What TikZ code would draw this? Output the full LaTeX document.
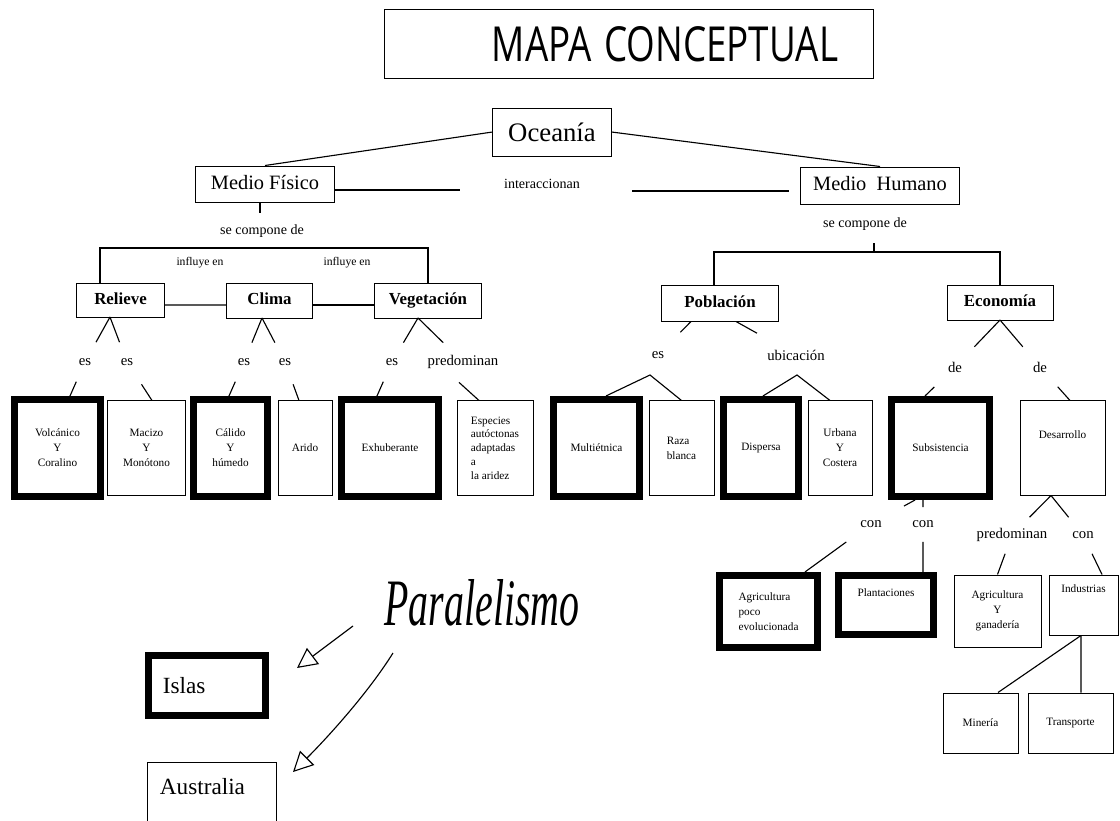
\documentclass[tikz,border=0pt]{standalone}
\usepackage{fontspec}
\usepackage{graphicx}
\setmainfont{Liberation Serif}
\newfontfamily\titlefont{Open Sans}
\usetikzlibrary{calc,arrows.meta}

\tikzset{
  box/.style={draw, line width=0.7pt, inner sep=0pt, align=center},
  heavybox/.style={draw, line width=5pt, inner sep=0pt, align=center},
  head/.style={box, text height=8.4pt, text depth=2.6pt, font=\fontsize{12}{14}\bfseries\selectfont},
  small/.style={font=\fontsize{8}{10.6}\selectfont},
  lowbox/.style={box, small, minimum height=2.35cm},
  lowheavy/.style={heavybox, small, minimum height=2.425cm},
  lbl/.style={inner sep=1pt, font=\fontsize{10.5}{12}\selectfont},
  note/.style={inner sep=1pt, font=\fontsize{10}{12}\selectfont},
  link/.style={line width=0.8pt},
  hand/.style={-{Triangle[open,length=0.5cm,width=0.5cm]}, line width=0.8pt}
}

\begin{document}
\begin{tikzpicture}[x=0.025cm, y=-0.025cm]
\useasboundingbox (0,0) rectangle (1120,821);
\clip (0,0) rectangle (1120,821);

% title
\node[box, minimum width=12.2cm, minimum height=1.7cm, text width=10.45cm, align=right] (title) at (629,44)
  {\titlefont\resizebox{8.65cm}{0.875cm}{MAPA CONCEPTUAL}};

% first level
\node[box, minimum width=2.95cm, minimum height=1.2cm, font=\fontsize{19}{22}\selectfont] (oce) at (552,132) {Oceanía};
\node[box, minimum width=3.45cm, minimum height=0.9cm, text height=10.5pt, text depth=3pt, font=\fontsize{14.5}{17}\selectfont] (mf) at (265,184) {Medio Físico};
\node[box, minimum width=3.95cm, minimum height=0.925cm, text height=10.5pt, text depth=3pt, font=\fontsize{14.5}{17}\selectfont] (mh) at (880,185.5) {Medio\ \ Humano};
\draw[link] (oce.west) -- (mf.north);
\draw[link] (oce.east) -- (mh.north);

\node[note] (inter) at (542,184) {interaccionan};
\coordinate (ia) at (460,190);
\coordinate (ib) at (632,191);
\draw[link] (mf.east |- ia) -- (ia);
\draw[link, shorten >=0.275cm] (ib) -- (mh.west |- ib);

% medio fisico
\node[note] (mfcomp) at (262,231) {se compone de};
\draw[link] ($(mf.south)+(-5,0)$) -- ++(0,11);
\coordinate (mfbr) at (260,248);

\node[head, minimum width=2.175cm, minimum height=0.85cm] (rel) at (120.5,300) {Relieve};
\node[head, minimum width=2.125cm, minimum height=0.875cm] (cli) at (269.5,300.5) {Clima};
\node[head, minimum width=2.65cm, minimum height=0.875cm] (veg) at (428,300.5) {Vegetación};
\draw[link] ($(rel.north)+(-20.5,0)$) |- (mfbr) -| (veg.north);
\draw[link] ($(rel.east)+(0,5)$) -- ($(cli.west)+(0,4.5)$);
\draw[link] ($(cli.east)+(0,4.5)$) -- ($(veg.west)+(0,4.5)$);

\node[inner sep=1pt, font=\fontsize{8.3}{10}\selectfont] (infl1) at (200,263) {influye en};
\node[inner sep=1pt, font=\fontsize{8.3}{10}\selectfont] (infl2) at (347,263) {influye en};

\coordinate (relpk) at (110,317);
\coordinate (clipk) at (262,318);
\coordinate (vegpk) at (418,318);
\node[lbl] (es1) at (85,362) {es};
\node[lbl] (es2) at (127,362) {es};
\node[lbl] (es3) at (244,362) {es};
\node[lbl] (es4) at (285,362) {es};
\node[lbl] (es5) at (392,362) {es};
\node[lbl] (pred1) at (463,362) {predominan};
\foreach \pk/\lb in {relpk/es1, relpk/es2, clipk/es3, clipk/es4, vegpk/es5, vegpk/pred1}
  \draw[link] (\pk) -- ($(\pk)!.56!(\lb)$);

% lower row, left
\node[lowheavy, minimum width=2.15cm] (volc) at (57.5,448) {Volcánico\\Y\\Coralino};
\node[lowbox, minimum width=1.925cm] (maciz) at (146.5,448) {Macizo\\Y\\Monótono};
\node[lowheavy, minimum width=1.85cm] (cali) at (230.5,448) {Cálido\\Y\\húmedo};
\node[lowbox, minimum width=1.35cm] (arid) at (305,448) {Arido};
\node[lowheavy, minimum width=2.425cm] (exub) at (390,448) {Exhuberante};
\node[lowbox, minimum width=1.9cm, align=left, font=\fontsize{8}{9.8}\selectfont] (espe) at (495,448)
  {Especies\\autóctonas\\adaptadas\\a\\la aridez};

\coordinate (volctop) at ($(volc.north)+(12.5,0)$);
\coordinate (macitop) at ($(maciz.north)+(5.5,0)$);
\coordinate (calitop) at ($(cali.north)+(-1.5,0)$);
\coordinate (aridtop) at ($(arid.north)+(-6,0)$);
\coordinate (exubtop) at ($(exub.north)+(-13,0)$);
\coordinate (espetop) at ($(espe.north)+(-16,0)$);
\foreach \lb/\tp in {es1/volctop, es2/macitop, es3/calitop, es4/aridtop, es5/exubtop}
  \draw[link] ($(\lb)!.58!(\tp)$) -- (\tp);
\draw[link] ($(pred1.south)+(-4,12)$) -- (espetop);

% medio humano
\node[note] (mhcomp) at (865,224) {se compone de};
\coordinate (mhbr) at (874,252);
\node[head, minimum width=2.9cm, minimum height=0.9cm] (pob) at (720,303) {Población};
\node[head, minimum width=2.65cm, minimum height=0.875cm] (eco) at (1000,302.5) {Economía};
\draw[link] ($(pob.north)+(-6,0)$) |- (mhbr) -| (eco.north);
\draw[link] (mhbr) -- ++(0,-9);

\node[lbl] (es6) at (658,355) {es};
\node[lbl] (ubic) at (796,355) {ubicación};
\coordinate (pobl) at ($(pob.south)+(-29,0)$);
\coordinate (pobr) at ($(pob.south)+(16,0)$);
\draw[link] (pobl) -- ($(pobl)!.32!(es6)$);
\draw[link] (pobr) -- ($(pobr)!.35!(ubic)$);
\coordinate (espk) at (650,375);
\coordinate (ubpk) at (797,375);

\node[lowheavy, minimum width=2.15cm] (mult) at (596.5,448) {Multiétnica};
\node[lowbox, minimum width=1.625cm, align=left] (raza) at (681.5,448) {Raza\\blanca};
\node[lowheavy, minimum width=1.875cm] (disp) at (761,448) {Dispersa};
\node[lowbox, minimum width=1.6cm] (urba) at (840,448) {Urbana\\Y\\Costera};
\draw[link] ($(mult.north)+(9.5,0)$) -- (espk) -- (raza.north);
\draw[link] ($(disp.north)+(2,0)$) -- (ubpk) -- ($(urba.north)+(-10,0)$);

\coordinate (ecopk) at (1000,320);
\node[lbl] (de1) at (955,367) {de};
\node[lbl] (de2) at (1040,367) {de};
\draw[link] (ecopk) -- ($(ecopk)!.57!(de1)$);
\draw[link] (ecopk) -- ($(ecopk)!.57!(de2)$);

\node[lowheavy, minimum width=2.45cm] (subs) at (940.5,448) {Subsistencia};
\node[lowbox, minimum width=2.125cm, text depth=0.65cm] (desa) at (1062.5,448) {Desarrollo};
\coordinate (substop) at ($(subs.north)+(-15.5,0)$);
\coordinate (desatop) at ($(desa.north)+(7.5,0)$);
\draw[link] ($(de1)!.69!(substop)$) -- (substop);
\draw[link] ($(de2)!.59!(desatop)$) -- (desatop);

% subsistencia
\node[lbl] (cona) at (871,524) {con};
\node[lbl] (conb) at (923,524) {con};
\coordinate (subl) at ($(subs.south)+(-25.5,0)$);
\coordinate (subr) at ($(subs.south)+(-17.5,0)$);
\draw[link] (subl) -- ($(subl)!.25!(cona)$);
\draw[link] (subr) -- ($(subr)!.3!(conb)$);
\node[heavybox, small, minimum width=2.45cm, minimum height=1.8cm, align=left] (agrp) at (768.5,611.5)
  {Agricultura\\poco\\evolucionada};
\node[heavybox, small, minimum width=2.375cm, minimum height=1.475cm, text depth=0.6cm] (plan) at (886,605) {Plantaciones};
\coordinate (agrptop) at ($(agrp.north)+(36.5,0)$);
\coordinate (plantop) at ($(plan.north)+(37,0)$);
\draw[link] ($(cona)!.375!(agrptop)$) -- (agrptop);
\draw[link] ($(conb)!.375!(plantop)$) -- (plantop);

% desarrollo
\coordinate (despk) at ($(desa.south)+(-11.5,0)$);
\node[lbl] (pred2) at (1012,535) {predominan};
\node[lbl] (conc) at (1083,535) {con};
\draw[link] (despk) -- ($(despk)!.55!(pred2)$);
\draw[link] (despk) -- ($(despk)!.55!(conc)$);
\node[box, small, minimum width=2.175cm, minimum height=1.8cm] (agyg) at (997.5,611) {Agricultura\\Y\\ganadería};
\node[box, small, minimum width=1.725cm, minimum height=1.5cm, text depth=0.8cm] (indu) at (1083.5,605) {Industrias};
\coordinate (indtop) at ($(indu.north)+(18.5,0)$);
\draw[link] ($(pred2)!.475!(agyg.north)$) -- (agyg.north);
\draw[link] ($(conc)!.475!(indtop)$) -- (indtop);

\node[box, small, minimum width=1.875cm, minimum height=1.5cm] (mine) at (980.5,723) {Minería};
\node[box, small, minimum width=2.125cm, minimum height=1.5cm] (tran) at (1070.5,723) {Transporte};
\coordinate (indbot) at ($(indu.south)+(-2.5,0)$);
\draw[link] (indbot) -- ($(mine.north)+(17.5,0)$);
\draw[link] (indbot) -- ($(tran.north)+(10.5,0)$);

% paralelismo
\node[heavybox, minimum width=2.925cm, minimum height=1.5cm, text width=2.2cm, align=left,
  font=\fontsize{16.5}{19}\selectfont] (islas) at (207,685.5) {Islas};
\node[box, minimum width=3.2cm, minimum height=2.2cm, text width=2.6cm, align=left, text depth=0.98cm,
  font=\fontsize{16.5}{19}\selectfont] (austr) at (212,806) {Australia};
\node[inner sep=0pt] (para) at (482,603) {\resizebox{4.875cm}{1.15cm}{\itshape Paralelismo}};
\coordinate (p1) at (353,626);
\coordinate (p2) at (297,668);
\coordinate (p3) at (393,653);
\coordinate (p4) at (293,772);
\draw[hand] (p1) -- (p2);
\draw[hand] (p3) .. controls (368,693) and (328,737) .. (p4);
\end{tikzpicture}
\end{document}
